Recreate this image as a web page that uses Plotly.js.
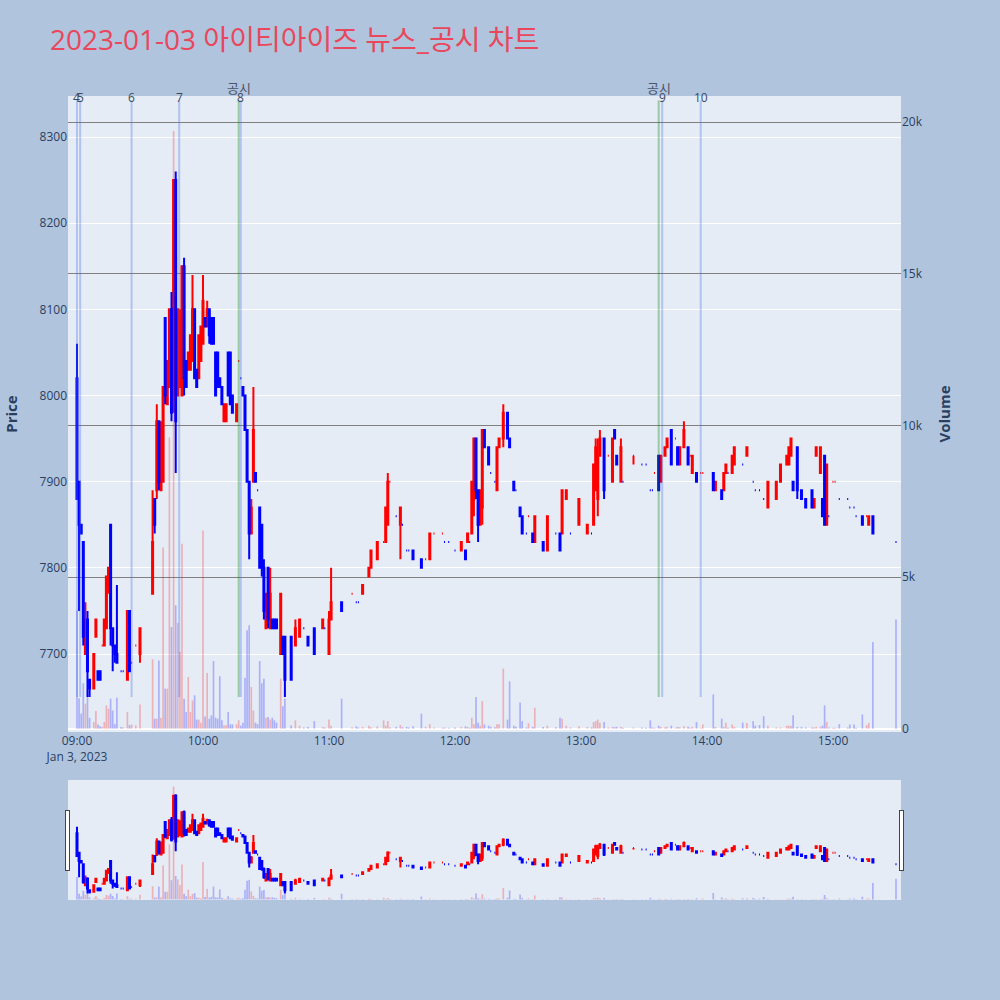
<!DOCTYPE html>
<html>
<head>
<meta charset="utf-8">
<script src="https://cdn.plot.ly/plotly-3.0.1.min.js"></script>
<style>html,body{margin:0;padding:0;background:#b0c4de;}</style>
</head>
<body>
<div id="chart" style="width:1000px;height:1000px;"></div>
<script>
const DAY = '2023-01-03';
const chartTitle = '2023-01-03 아이티아이즈 뉴스_공시 차트';

const times = ['09:00','09:01','09:02','09:03','09:04','09:05','09:06','09:08','09:09','09:10','09:11','09:12','09:13','09:14','09:15','09:16','09:17','09:18','09:19','09:21','09:22','09:24','09:25','09:26','09:28','09:30',
'09:36','09:37','09:38','09:39','09:40','09:41','09:42','09:43','09:44','09:45','09:46','09:47','09:48','09:49','09:50','09:51','09:52','09:53','09:54','09:55','09:56','09:57','09:58','09:59','10:00','10:01','10:02','10:03','10:04','10:05','10:06','10:07','10:08','10:09','10:10','10:11','10:12','10:13','10:14','10:16','10:17','10:18','10:19','10:20','10:21','10:22','10:23','10:24','10:25','10:26','10:27','10:28','10:29','10:30','10:31','10:32','10:33','10:34','10:35','10:37','10:38','10:39','10:42','10:44','10:46','10:48','10:50','10:53','10:57','10:58','11:00','11:01','11:06','11:11','11:13','11:14','11:16','11:19','11:20','11:23','11:26','11:27','11:28','11:29','11:32','11:34','11:35','11:37','11:38','11:40','11:44','11:46','11:48','11:50','11:54','11:55','11:57',
'12:00','12:03','12:05','12:06','12:07','12:08','12:09','12:10','12:11','12:12','12:13','12:14','12:16','12:17','12:19','12:20','12:21','12:23','12:25','12:26','12:28','12:29','12:31','12:32','12:34','12:35','12:37','12:38','12:42','12:44','12:48','12:50','12:51','12:53','12:55','12:59',
'13:03','13:05','13:06','13:07','13:08','13:09','13:11','13:13','13:15','13:16','13:17','13:19','13:20','13:25','13:29','13:31','13:33','13:34','13:35','13:37','13:38','13:40','13:41','13:43','13:45','13:46','13:47','13:49','13:51','13:52','13:53','13:55','13:57','13:58',
'14:03','14:04','14:07','14:08','14:09','14:10','14:12','14:13','14:17','14:19','14:22','14:23','14:25','14:27','14:29','14:33','14:35','14:38','14:39','14:40','14:41','14:43','14:45','14:47','14:50','14:51','14:52','14:54','14:55','14:56','14:57','14:58',
'15:00','15:01','15:03','15:07','15:08','15:10','15:11','15:14','15:16','15:17','15:19','15:30'];

const open = [8020,7900,7850,7830,7700,7740,7670,7660,7720,7680,7680,7710,7710,7730,7780,7850,7730,7710,7700,7680,7680,7670,7750,7690,7710,7700,
7770,7880,7890,7970,7890,7900,8090,7990,8010,8100,8000,8250,8000,8010,8000,8150,8040,8030,8030,8040,8100,8030,8020,8040,8060,8090,8080,8100,8090,8090,8050,8050,8020,8010,7970,7970,8050,8050,8000,7970,8040,8020,8010,8000,7960,7900,7840,7900,7910,7890,7870,7850,7800,7730,7800,7730,7740,7740,7740,7700,7720,7720,7720,7710,7720,7730,7720,7730,7730,7730,7700,7740,7760,7770,7760,7760,7770,7790,7800,7810,7830,7830,7850,7900,7860,7850,7850,7820,7820,7820,7810,7810,7810,7840,7840,7830,7830,
7820,7820,7820,7830,7830,7840,7880,7950,7890,7850,7870,7960,7940,7910,7900,7890,7940,7950,7980,7950,7900,7890,7870,7860,7840,7860,7840,7830,7830,7820,7840,7840,7840,7880,7840,7850,
7840,7840,7850,7890,7880,7930,7950,7930,7900,7960,7930,7900,7900,7930,7920,7920,7890,7890,7910,7930,7900,7930,7940,7960,7950,7940,7920,7940,7940,7930,7910,7910,7910,7910,
7910,7890,7890,7890,7910,7910,7910,7920,7920,7930,7900,7890,7890,7880,7870,7880,7900,7920,7920,7930,7900,7940,7890,7880,7890,7870,7930,7910,7880,7930,7850,7860,
7900,7900,7880,7880,7870,7870,7860,7860,7860,7850,7860,7830];

const high = [8060,7900,7850,7830,7760,7750,7670,7700,7740,7680,7680,7710,7740,7790,7800,7850,7730,7710,7780,7680,7680,7750,7750,7690,7710,7730,
7890,7880,7990,7970,7970,8010,8090,8040,8100,8120,8250,8260,8100,8100,8150,8160,8040,8050,8070,8140,8100,8030,8070,8080,8140,8090,8110,8100,8090,8090,8050,8050,8020,8010,7990,7990,8050,8050,8000,7990,8040,8020,8010,8000,7960,7900,7880,8010,7910,7890,7870,7850,7810,7770,7800,7800,7740,7740,7740,7770,7720,7720,7720,7740,7740,7730,7720,7730,7740,7730,7750,7800,7760,7770,7760,7760,7780,7800,7820,7830,7830,7870,7910,7900,7860,7870,7850,7820,7820,7820,7810,7810,7840,7840,7840,7830,7830,
7820,7830,7820,7840,7830,7900,7950,7950,7890,7890,7960,7960,7940,7910,7900,7940,7950,7990,7980,7950,7900,7890,7870,7860,7840,7860,7840,7860,7830,7860,7840,7840,7890,7890,7840,7880,
7850,7840,7920,7950,7950,7960,7950,7930,7950,7960,7930,7950,7900,7930,7920,7920,7890,7890,7910,7930,7930,7940,7950,7960,7950,7940,7940,7970,7940,7930,7930,7910,7910,7910,
7910,7900,7890,7910,7920,7910,7930,7940,7920,7940,7900,7890,7890,7880,7900,7900,7920,7930,7940,7950,7900,7940,7890,7880,7890,7880,7940,7940,7880,7930,7920,7860,
7900,7900,7880,7880,7870,7870,7860,7860,7860,7860,7860,7830];

const low = [7880,7750,7840,7710,7700,7650,7650,7660,7720,7670,7670,7710,7710,7730,7770,7710,7680,7690,7690,7680,7680,7670,7680,7690,7710,7690,
7770,7840,7880,7890,7890,7900,7990,7990,8010,7970,7980,7910,8000,8010,8000,8000,8010,8030,8030,8040,8020,8010,8020,8040,8060,8080,8080,8060,8060,8060,8000,8010,8010,7990,7970,7970,8000,7990,7980,7970,8040,8020,8000,7960,7900,7810,7840,7900,7900,7890,7800,7790,7740,7730,7730,7730,7730,7730,7730,7700,7700,7650,7670,7710,7720,7730,7710,7700,7730,7730,7700,7740,7750,7770,7760,7760,7770,7790,7800,7810,7830,7830,7850,7900,7860,7810,7850,7820,7820,7810,7800,7810,7810,7840,7840,7830,7830,
7820,7820,7810,7830,7830,7840,7860,7880,7830,7850,7850,7940,7920,7910,7900,7890,7940,7940,7950,7940,7890,7890,7860,7840,7840,7860,7830,7830,7820,7820,7840,7820,7840,7880,7840,7850,
7840,7840,7850,7890,7860,7930,7880,7930,7900,7950,7920,7900,7900,7920,7920,7920,7890,7890,7910,7890,7900,7930,7940,7920,7950,7920,7920,7940,7920,7930,7910,7900,7910,7910,
7890,7890,7880,7890,7910,7910,7910,7920,7920,7930,7900,7890,7890,7880,7870,7880,7900,7920,7920,7930,7890,7880,7880,7870,7870,7870,7930,7910,7860,7850,7850,7860,
7900,7900,7880,7880,7870,7870,7860,7850,7860,7850,7840,7830];

const close = [7880,7850,7840,7720,7740,7680,7660,7700,7740,7670,7670,7710,7740,7790,7800,7730,7710,7700,7690,7680,7680,7750,7680,7690,7710,7730,
7830,7850,7970,7900,7960,8010,8000,8040,8100,7980,8250,7970,8100,8090,8150,8020,8010,8050,8070,8100,8020,8010,8070,8080,8110,8080,8100,8070,8060,8060,8000,8010,8010,7990,7990,7990,8000,7990,7980,7990,8040,8020,8000,7960,7900,7840,7870,7960,7900,7890,7800,7800,7750,7770,7740,7770,7730,7730,7730,7770,7700,7670,7670,7730,7740,7730,7710,7700,7740,7730,7740,7760,7750,7770,7760,7760,7780,7800,7820,7830,7830,7870,7900,7900,7860,7870,7850,7820,7820,7810,7800,7810,7840,7840,7840,7830,7830,
7820,7830,7810,7840,7830,7900,7950,7890,7850,7890,7960,7940,7920,7910,7900,7940,7950,7980,7950,7940,7890,7890,7860,7840,7840,7860,7830,7860,7820,7860,7840,7820,7890,7890,7840,7880,
7850,7840,7920,7940,7930,7950,7890,7930,7950,7950,7920,7940,7900,7930,7920,7920,7890,7890,7910,7890,7930,7940,7950,7920,7950,7920,7940,7960,7920,7930,7930,7900,7910,7910,
7890,7900,7880,7910,7920,7910,7930,7940,7920,7940,7900,7890,7890,7880,7900,7900,7920,7930,7940,7950,7890,7890,7880,7870,7870,7880,7940,7940,7860,7850,7920,7860,
7900,7900,7880,7880,7870,7870,7860,7850,7860,7860,7840,7830];

const volume = [3900,1000,500,1500,825,1200,360,220,580,140,80,60,220,770,660,990,600,150,1020,55,40,550,120,140,110,800,
2290,330,330,2250,363,5970,1320,1320,9600,3355,19700,4070,3490,2530,6100,990,550,1700,550,935,1100,300,300,200,6530,400,1840,330,440,2230,363,330,1730,275,110,110,550,143,143,143,275,100,200,1680,3245,3410,1375,600,200,150,2230,1500,1650,363,385,300,363,275,200,1650,740,990,110,275,100,40,60,250,60,40,300,100,990,50,80,40,60,100,50,80,275,100,250,50,60,120,50,60,40,80,495,60,150,40,30,40,30,
40,60,80,60,30,360,150,1045,200,100,910,140,100,60,50,150,150,1980,300,1560,100,60,860,250,40,180,60,690,60,100,50,360,330,100,40,80,
60,40,220,250,300,200,220,40,60,50,60,60,30,40,40,30,275,40,30,100,60,50,60,100,30,60,50,80,60,30,60,220,30,140,
1130,60,330,60,200,30,140,60,200,190,250,100,120,410,100,40,40,100,100,100,440,60,60,40,40,40,60,60,100,770,225,40,
30,30,150,40,140,140,30,470,120,190,2860,3600];

const newsTimes = ['09:00:00','09:01:30','09:26:00','09:48:40','10:18:00','13:38:40','13:57:00'];
const newsLabels = ['4','5','6','7','8','9','10'];
const disclosureTimes = ['10:17:00','13:37:00'];
const disclosureLabel = '공시';

const UP = '#ff0000', DOWN = '#0000ff';

// direction of each candle (doji: compare with previous close)
const dir = [];
for (let i = 0; i < close.length; i++) {
  let d;
  if (close[i] > open[i]) d = 1;
  else if (close[i] < open[i]) d = -1;
  else if (i > 0 && close[i] > close[i-1]) d = 1;
  else if (i > 0 && close[i] < close[i-1]) d = -1;
  else d = i > 0 ? dir[i-1] : 1;
  dir.push(d);
}
const xs = times.map(t => DAY + ' ' + t);
const pick = (arr, d) => arr.filter((_, i) => dir[i] === d);

function candle(d, color) {
  return {
    type: 'candlestick', x: pick(xs, d), open: pick(open, d), high: pick(high, d),
    low: pick(low, d), close: pick(close, d), yaxis: 'y', showlegend: false, hoverinfo: 'x+y',
    increasing: {line: {color: color, width: 2}, fillcolor: color},
    decreasing: {line: {color: color, width: 2}, fillcolor: color}
  };
}

const volTrace = {
  type: 'bar', x: xs, y: volume, yaxis: 'y2', showlegend: false,
  marker: {color: dir.map(d => d > 0 ? 'rgba(255,0,0,0.25)' : 'rgba(0,0,255,0.25)'), line: {width: 0}}
};

const yLow = Math.min(...low), yHigh = Math.max(...high) * 1.01;
const shapes = [], annotations = [];
disclosureTimes.forEach(t => {
  shapes.push({type: 'line', xref: 'x', yref: 'y', x0: DAY + ' ' + t, x1: DAY + ' ' + t, y0: yLow, y1: yHigh,
    line: {color: 'rgba(0,128,0,0.33)', width: 2}});
  annotations.push({xref: 'x', yref: 'paper', x: DAY + ' ' + t, y: 1, yanchor: 'middle', yshift: 8,
    text: disclosureLabel, showarrow: false, font: {size: 13, color: '#4a5568'}});
});
newsTimes.forEach((t, i) => {
  shapes.push({type: 'line', xref: 'x', yref: 'y', x0: DAY + ' ' + t, x1: DAY + ' ' + t, y0: yLow, y1: yHigh,
    line: {color: 'rgba(65,105,225,0.32)', width: 2}});
  annotations.push({xref: 'x', yref: 'paper', x: DAY + ' ' + t, y: 1, yanchor: 'middle', yshift: -1,
    text: newsLabels[i], showarrow: false, font: {size: 12, color: '#3b4a60'}});
});

const xRange = [DAY + ' 08:55:43', DAY + ' 15:32:23'];

const layout = {
  width: 1000, height: 1000,
  paper_bgcolor: '#b0c4de', plot_bgcolor: '#e5ecf6',
  margin: {l: 68, r: 99, t: 96, b: 268, autoexpand: false},
  font: {family: '"Open Sans", "Noto Sans CJK KR", sans-serif', size: 12, color: '#2a3f5f'},
  title: {text: chartTitle, x: 0.05, xanchor: 'left', y: 0.96, yanchor: 'middle',
    font: {size: 28, color: '#e8475c', family: '"Open Sans", "Noto Sans CJK KR", sans-serif'}},
  showlegend: false,
  xaxis: {type: 'date', range: xRange, showgrid: false, zeroline: false, ticks: '',
    dtick: 3600000, tick0: DAY + ' 09:00', automargin: false,
    rangeslider: {visible: true, range: xRange, thickness: 0.1887, bgcolor: '#e5ecf6', borderwidth: 0}},
  yaxis: {title: {text: '<b>Price</b>', font: {size: 15}, standoff: 18}, range: [7609.5, 8347.6], gridcolor: 'white',
    zeroline: false, ticks: '', automargin: true, dtick: 100},
  yaxis2: {title: {text: '<b>Volume</b>', font: {size: 15}, standoff: 17}, overlaying: 'y', side: 'right',
    range: [-109, 20857], gridcolor: 'gray', gridwidth: 1, showgrid: true, zeroline: true,
    zerolinecolor: 'white', zerolinewidth: 2, ticks: '', automargin: true, dtick: 5000},
  shapes: shapes, annotations: annotations,
  bargap: 0.2
};

Plotly.newPlot('chart', [candle(1, UP), candle(-1, DOWN), volTrace], layout, {displayModeBar: false});
</script>
</body>
</html>
